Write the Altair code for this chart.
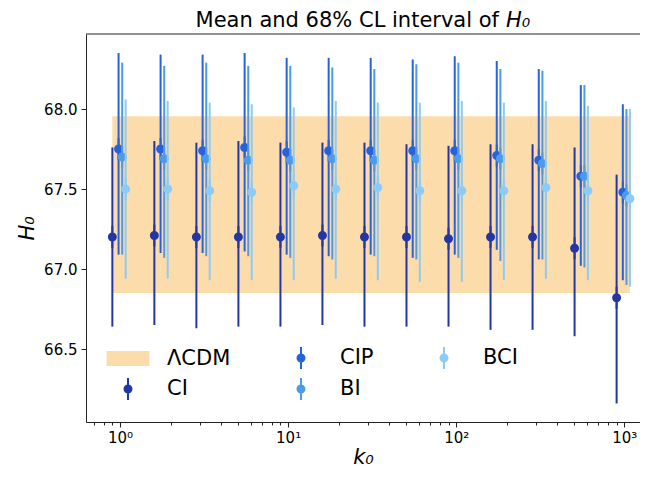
import altair as alt
import pandas as pd

# ---------------- data ----------------
k0 = [1.0, 1.778, 3.162, 5.623, 10.0, 17.78, 31.62, 56.23, 100.0, 177.8, 316.2, 562.3, 1000.0]

series = ["CI", "CIP", "BI", "BCI"]
k_shift = [0.90, 0.98, 1.03, 1.08]   # horizontal dodge factor of each series

ci_mean = [67.20, 67.21, 67.20, 67.20, 67.20, 67.21, 67.20, 67.20, 67.19, 67.20, 67.20, 67.13, 66.82]
ci_lo = [66.64, 66.65, 66.63, 66.64, 66.64, 66.65, 66.64, 66.64, 66.64, 66.62, 66.62, 66.58, 66.16]
ci_hi = [67.76, 67.80, 67.79, 67.80, 67.79, 67.79, 67.79, 67.78, 67.77, 67.78, 67.78, 67.76, 67.59]

cip_mean = [67.75, 67.75, 67.74, 67.76, 67.73, 67.74, 67.74, 67.74, 67.74, 67.71, 67.68, 67.58, 67.48]
cip_lo = [67.09, 67.10, 67.10, 67.11, 67.09, 67.08, 67.09, 67.07, 67.09, 67.12, 67.06, 67.02, 66.93]
cip_hi = [68.35, 68.34, 68.34, 68.35, 68.32, 68.32, 68.32, 68.31, 68.33, 68.30, 68.25, 68.15, 68.03]

bi_mean = [67.70, 67.69, 67.69, 67.68, 67.68, 67.69, 67.68, 67.69, 67.69, 67.69, 67.66, 67.58, 67.46]
bi_lo = [67.09, 67.07, 67.08, 67.08, 67.07, 67.06, 67.08, 67.06, 67.07, 67.05, 67.06, 67.01, 66.90]
bi_hi = [68.29, 68.27, 68.29, 68.27, 68.27, 68.26, 68.25, 68.28, 68.29, 68.25, 68.24, 68.15, 68.00]

bci_mean = [67.50, 67.50, 67.49, 67.48, 67.52, 67.50, 67.51, 67.49, 67.49, 67.49, 67.51, 67.49, 67.44]
bci_lo = [66.94, 66.94, 66.93, 66.93, 66.93, 66.94, 66.93, 66.92, 66.92, 66.93, 66.94, 66.93, 66.89]
bci_hi = [68.06, 68.05, 68.04, 68.03, 68.01, 68.05, 68.04, 68.04, 68.05, 68.04, 68.05, 68.02, 68.00]

lcdm_lo = 66.85
lcdm_hi = 67.955

legend_order = ["ΛCDM", "CI", "CIP", "BI", "BCI"]
legend_colors = ["#fddcab", "#2336a6", "#2462de", "#4d9ae8", "#8ccbf5"]

x_major = [1, 10, 100, 1000]
x_minor = [0.7, 0.8, 0.9, 2, 3, 4, 5, 6, 7, 8, 9, 20, 30, 40, 50, 60, 70, 80, 90,
           200, 300, 400, 500, 600, 700, 800, 900]
y_ticks = [66.5, 67.0, 67.5, 68.0]

title_left = "Mean and 68% CL interval of"
title_right = "H₀"

# ---------------- build tables ----------------
means = {"CI": ci_mean, "CIP": cip_mean, "BI": bi_mean, "BCI": bci_mean}
los = {"CI": ci_lo, "CIP": cip_lo, "BI": bi_lo, "BCI": bci_lo}
his = {"CI": ci_hi, "CIP": cip_hi, "BI": bi_hi, "BCI": bci_hi}
color_of = dict(zip(legend_order, legend_colors))

rows = []
for s, f in zip(series, k_shift):
    for i, k in enumerate(k0):
        rows.append({"series": s, "k": k, "x": k * f,
                     "mean": means[s][i], "lo": los[s][i], "hi": his[s][i]})
df = pd.DataFrame(rows)

band_df = pd.DataFrame({"x0": [df["x"].min()], "x1": [df["x"].max()],
                        "lo": [lcdm_lo], "hi": [lcdm_hi]})

# ---------------- scales / axes ----------------
W, H = 554, 388
xscale = alt.Scale(type="log", domain=[0.6273, 1240], nice=False)
yscale = alt.Scale(domain=[66.044, 68.469], nice=False, zero=False)

label_expr = ("datum.value == 1 ? '10⁰' : datum.value == 10 ? '10¹' : "
              "datum.value == 100 ? '10²' : datum.value == 1000 ? '10³' : ''")
xaxis = alt.Axis(values=sorted(x_major + x_minor), labelExpr=label_expr,
                 tickSize={"condition": {"test": "indexof([1,10,100,1000], datum.value) >= 0",
                                         "value": 5}, "value": 3},
                 labelOverlap=False, labelPadding=3, titlePadding=1, grid=False)
yaxis = alt.Axis(values=y_ticks, format=".1f", tickSize=5, labelPadding=4,
                 titlePadding=6, grid=False)

cscale = alt.Scale(domain=legend_order, range=legend_colors)
rect_path = "M-1.43,-0.5H1.43V0.5H-1.43Z"
eb_path = ("M-0.067,-0.733H0.067V0.733H-0.067Z "
           "M0.3,0A0.3,0.3 0 1,1 -0.3,0A0.3,0.3 0 1,1 0.3,0Z")
sscale = alt.Scale(domain=legend_order, range=[rect_path, eb_path, eb_path, eb_path, eb_path])

legend = alt.Legend(orient="none", legendX=27, legendY=309, columns=3, title=None,
                    labelFontSize=21, labelFont="DejaVu Sans", labelColor="#000",
                    symbolSize=900, labelOffset=24, columnPadding=55, rowPadding=5,
                    padding=0, symbolStrokeWidth=0, symbolOpacity=1, labelLimit=0)

X0 = alt.X("x0:Q", scale=xscale, axis=xaxis, title="k₀")
XP = alt.X("x:Q", scale=xscale, axis=xaxis, title="k₀")

# ---------------- layers ----------------
band = alt.Chart(band_df).mark_rect(color=color_of["ΛCDM"]).encode(
    x=X0,
    x2="x1:Q",
    y=alt.Y("lo:Q", scale=yscale, axis=yaxis, title="H₀"),
    y2="hi:Q",
)

layers = [band]
for s in series:
    base = alt.Chart(df).transform_filter(alt.datum.series == s)
    rule = base.mark_rule(strokeWidth=2, color=color_of[s]).encode(
        x=XP,
        y=alt.Y("lo:Q", scale=yscale, axis=yaxis, title="H₀"),
        y2="hi:Q",
    )
    pts = base.mark_point(filled=True, size=900, opacity=1, strokeWidth=0).encode(
        x=XP,
        y=alt.Y("mean:Q", scale=yscale, axis=yaxis, title="H₀"),
        color=alt.Color("series:N", scale=cscale, legend=legend),
        shape=alt.Shape("series:N", scale=sscale, legend=legend),
    )
    layers += [rule, pts]

top_spine = alt.Chart(band_df).mark_rule(color="#222", strokeWidth=1).encode(
    x=alt.value(0), x2=alt.value(W), y=alt.value(0))

t1 = alt.Chart(pd.DataFrame({"t": [title_left]})).mark_text(
    align="right", baseline="alphabetic", fontSize=21, font="DejaVu Sans", color="#000"
).encode(x=alt.value(413), y=alt.value(-7), text="t:N")
t2 = alt.Chart(pd.DataFrame({"t": [title_right]})).mark_text(
    align="left", baseline="alphabetic", fontSize=21, font="DejaVu Sans",
    fontStyle="italic", color="#000"
).encode(x=alt.value(420), y=alt.value(-7), text="t:N")

chart = alt.layer(*layers, top_spine, t1, t2).properties(
    width=W, height=H,
    padding={"left": 78, "top": 26, "right": 0, "bottom": 47},
    autosize=alt.AutoSizeParams(type="none"),
).configure(font="DejaVu Sans").configure_view(stroke=None).configure_axis(
    labelFont="DejaVu Sans", labelFontSize=15, labelColor="#000",
    titleFont="DejaVu Sans", titleFontSize=21, titleFontStyle="italic",
    titleFontWeight="normal", titleColor="#000",
    tickColor="#222", domainColor="#222", tickWidth=1, domainWidth=1,
)

chart.save("out.html", embed_options={"renderer": "svg", "actions": False})
